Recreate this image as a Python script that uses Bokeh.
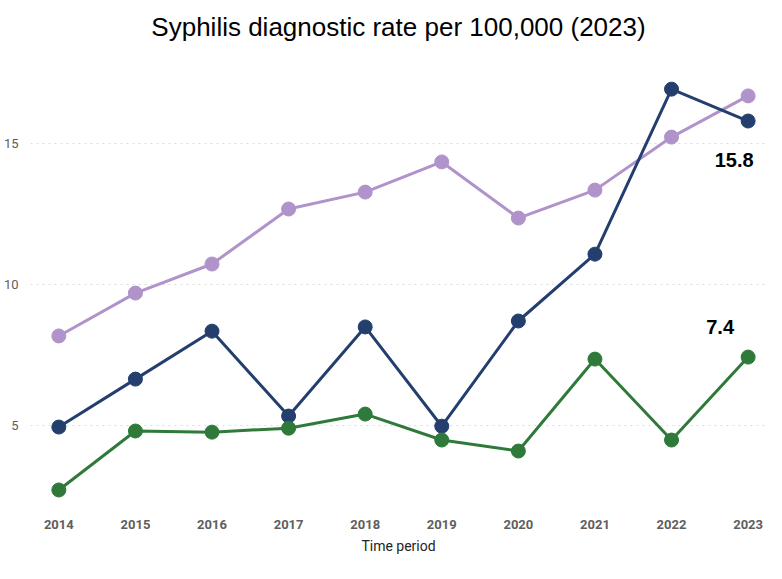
from bokeh.plotting import figure
from bokeh.models import FixedTicker, ColumnDataSource, Range1d
from bokeh.core.properties import value
from bokeh.embed import file_html
from bokeh.resources import INLINE

years = [2014, 2015, 2016, 2017, 2018, 2019, 2020, 2021, 2022, 2023]
purple_vals = [8.16, 9.68, 10.71, 12.66, 13.26, 14.33, 12.34, 13.33, 15.21, 16.67]
navy_vals = [4.93, 6.63, 8.33, 5.32, 8.48, 4.96, 8.69, 11.06, 16.91, 15.78]
green_vals = [2.70, 4.79, 4.75, 4.89, 5.39, 4.47, 4.08, 7.34, 4.47, 7.41]
y_ticks = [5, 10, 15]

COND = "Roboto"

p = figure(width=766, height=556, output_backend="svg", toolbar_location=None,
           x_range=Range1d(2013.63, 2023.24), y_range=Range1d(2.22, 18.28),
           title="Syphilis diagnostic rate per 100,000 (2023)",
           min_border_left=4, min_border_right=0, min_border_top=8, min_border_bottom=10)
p.outline_line_color = None
p.background_fill_color = "white"

p.title.text_font = "Liberation Sans"
p.title.text_font_size = "26px"
p.title.text_font_style = "normal"
p.title.text_color = "#000000"
p.title.align = "center"
p.title.standoff = 18

p.xgrid.grid_line_color = None
p.ygrid.grid_line_color = "#DDDDDD"
p.ygrid.grid_line_dash = "2 4"
p.ygrid.grid_line_width = 1
p.yaxis.ticker = FixedTicker(ticks=y_ticks)
p.xaxis.ticker = FixedTicker(ticks=years)

for ax in (p.xaxis, p.yaxis):
    ax.axis_line_color = None
    ax.major_tick_line_color = None
    ax.minor_tick_line_color = None
    ax.major_label_text_color = "#605E5C"
    ax.major_label_text_font = COND
    ax.major_label_text_font_size = "13px"
p.xaxis.major_label_text_font_style = "bold"
p.yaxis.major_label_standoff = 6
p.xaxis.major_label_standoff = 10
p.xaxis.axis_label = "Time period"
p.xaxis.axis_label_text_font = COND
p.xaxis.axis_label_text_font_size = "14px"
p.xaxis.axis_label_text_font_style = "normal"
p.xaxis.axis_label_text_color = "#252423"
p.xaxis.axis_label_standoff = 6

series = [(purple_vals, "#B093CB"), (navy_vals, "#243F6E"), (green_vals, "#2F7A3A")]
for vals, col in series:
    p.line(years, vals, line_color=col, line_width=3)
    p.scatter(years, vals, size=14, fill_color=col, line_color=col)

lab_navy = ColumnDataSource(dict(x=[years[-1]], y=[navy_vals[-1]], t=["%.1f" % navy_vals[-1]]))
lab_green = ColumnDataSource(dict(x=[years[-1]], y=[green_vals[-1]], t=["%.1f" % green_vals[-1]]))
p.text(x="x", y="y", text="t", source=lab_navy, x_offset=-14, y_offset=39,
       text_font=value("Liberation Sans"), text_font_size="20px", text_font_style="bold",
       text_color="#000000", text_align="center", text_baseline="middle")
p.text(x="x", y="y", text="t", source=lab_green, x_offset=-28, y_offset=-30,
       text_font=value("Liberation Sans"), text_font_size="20px", text_font_style="bold",
       text_color="#000000", text_align="center", text_baseline="middle")

open("out.html", "w").write(file_html(p, INLINE))
